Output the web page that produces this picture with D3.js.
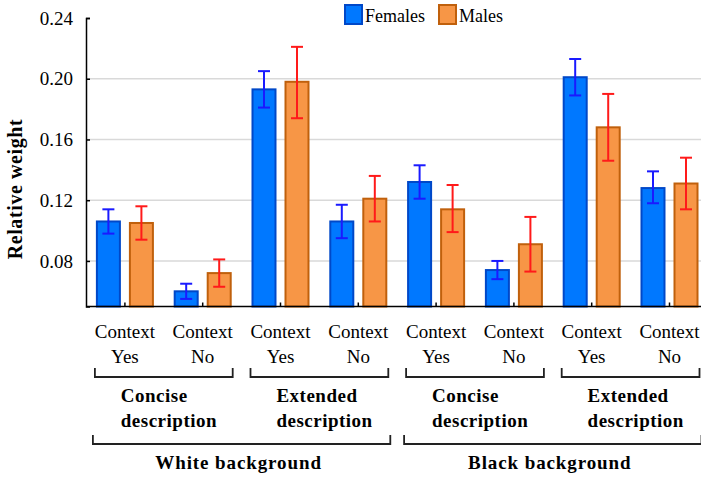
<!DOCTYPE html>
<html>
<head>
<meta charset="utf-8">
<script src="https://cdn.jsdelivr.net/npm/d3@7"></script>
<style>
  body { margin: 0; background: white; }
  svg text { font-family: "Liberation Serif", "Times New Roman", serif; fill: #000; }
</style>
</head>
<body>
<div id="chart"></div>
<script>
// categories along the x axis (top line / bottom line of each label)
const categories = ["WCY", "WCN", "WEY", "WEN", "BCY", "BCN", "BEY", "BEN"];
const contextLabels = ["Yes", "No", "Yes", "No", "Yes", "No", "Yes", "No"];
const series = ["Females", "Males"];

// relative weights
const females = [0.106, 0.060, 0.193, 0.106, 0.132, 0.074, 0.201, 0.128];
const femalesLow = [0.098, 0.055, 0.181, 0.095, 0.121, 0.068, 0.189, 0.118];
const femalesHigh = [0.114, 0.065, 0.205, 0.117, 0.143, 0.080, 0.213, 0.139];
const males = [0.105, 0.072, 0.198, 0.121, 0.114, 0.091, 0.168, 0.131];
const malesLow = [0.094, 0.063, 0.174, 0.106, 0.099, 0.073, 0.146, 0.114];
const malesHigh = [0.116, 0.081, 0.221, 0.136, 0.130, 0.109, 0.190, 0.148];

const yTicks = [0.08, 0.12, 0.16, 0.20, 0.24];

// bracket groups: [first category, last category, lines of label]
const descGroups = [
  ["WCY", "WCN", ["Concise", "description"]],
  ["WEY", "WEN", ["Extended", "description"]],
  ["BCY", "BCN", ["Concise", "description"]],
  ["BEY", "BEN", ["Extended", "description"]]
];
const bgGroups = [
  ["WCY", "WEN", "White background"],
  ["BCY", "BEN", "Black background"]
];

const width = 701, height = 478;
const svg = d3.select("#chart").append("svg")
  .attr("width", width).attr("height", height);

const x = d3.scaleBand().domain(categories).range([86, 708.4]);
const xs = d3.scaleBand().domain(series).range([0, x.bandwidth()])
  .paddingInner(0.303).paddingOuter(0.33);
const y = d3.scaleLinear().domain([0.05, 0.24]).range([306.5, 18]);
const cx = c => x(c) + x.bandwidth() / 2;

// gridlines
svg.append("g")
  .selectAll("line")
  .data(yTicks.filter(t => t < 0.24))
  .join("line")
  .attr("x1", 86).attr("x2", width)
  .attr("y1", d => y(d)).attr("y2", d => y(d))
  .attr("stroke", "#d9d9d9").attr("stroke-width", 1.5);

// y axis
const yAxis = svg.append("g")
  .attr("transform", "translate(86,0)")
  .call(d3.axisRight(y).tickValues(yTicks).tickFormat(d3.format(".2f")).tickSize(4));
yAxis.select(".domain").attr("stroke", "#000").attr("stroke-width", 1.5);
yAxis.selectAll(".tick line").attr("stroke", "#000").attr("stroke-width", 1.5);
yAxis.selectAll(".tick text")
  .attr("x", -13).attr("text-anchor", "end")
  .style("font-size", "19px");

svg.append("text")
  .attr("transform", "translate(22,189) rotate(-90)")
  .attr("text-anchor", "middle")
  .style("font-size", "20px").style("font-weight", "bold")
  .style("letter-spacing", "0.6px")
  .text("Relative weight");

// bars
const rows = categories.map((c, i) => [
  { cat: c, s: "Females", v: females[i], lo: femalesLow[i], hi: femalesHigh[i] },
  { cat: c, s: "Males", v: males[i], lo: malesLow[i], hi: malesHigh[i] }
]).flat();

const fill = { Females: "#0078ff", Males: "#f79646" };
const edge = { Females: "#0048c8", Males: "#c0600c" };
const errColor = { Females: "#1a1aff", Males: "#ff1a1a" };

svg.append("g")
  .selectAll("rect")
  .data(rows)
  .join("rect")
  .attr("x", d => x(d.cat) + xs(d.s))
  .attr("width", xs.bandwidth())
  .attr("y", d => y(d.v))
  .attr("height", d => y(0.05) - y(d.v))
  .attr("fill", d => fill[d.s])
  .attr("stroke", d => edge[d.s])
  .attr("stroke-width", 2);

// error bars
const eb = svg.append("g")
  .selectAll("g")
  .data(rows)
  .join("g")
  .attr("stroke", d => errColor[d.s])
  .attr("stroke-width", 2);
const ecx = d => x(d.cat) + xs(d.s) + xs.bandwidth() / 2;
eb.append("line")
  .attr("x1", ecx).attr("x2", ecx)
  .attr("y1", d => y(d.lo)).attr("y2", d => y(d.hi));
eb.append("line")
  .attr("x1", d => ecx(d) - 6).attr("x2", d => ecx(d) + 6)
  .attr("y1", d => y(d.hi)).attr("y2", d => y(d.hi));
eb.append("line")
  .attr("x1", d => ecx(d) - 6).attr("x2", d => ecx(d) + 6)
  .attr("y1", d => y(d.lo)).attr("y2", d => y(d.lo));

// x axis
const xAxis = svg.append("g")
  .attr("transform", `translate(0,${y(0.05)})`)
  .call(d3.axisTop(x).tickSize(4).tickFormat(""));
xAxis.select(".domain").attr("d", `M86,0H${width}`)
  .attr("stroke", "#000").attr("stroke-width", 1.5);
xAxis.selectAll(".tick line").attr("stroke", "#000").attr("stroke-width", 1.5);

// category labels
const catLab = svg.append("g")
  .selectAll("text")
  .data(categories)
  .join("text")
  .attr("x", d => cx(d))
  .attr("text-anchor", "middle")
  .style("font-size", "19px");
catLab.append("tspan").attr("x", d => cx(d)).attr("y", 338).text("Context");
catLab.append("tspan").attr("x", d => cx(d)).attr("y", 363)
  .text((d, i) => contextLabels[i]);

// brackets
const bracket = (g, x1, x2, yy, h) =>
  g.append("path")
    .attr("d", `M${x1},${yy - h}V${yy}H${x2}V${yy - h}`)
    .attr("fill", "none").attr("stroke", "#222").attr("stroke-width", 1.8);

const lvl1 = svg.append("g");
descGroups.forEach(([a, b, lines]) => {
  bracket(lvl1, cx(a) - 30, cx(b) + 30, 377, 9);
  const mid = (cx(a) + cx(b)) / 2;
  const t = lvl1.append("text")
    .style("font-size", "19px").style("font-weight", "bold")
    .style("letter-spacing", "0.5px");
  lines.forEach((l, k) => {
    t.append("tspan").attr("x", mid - 43).attr("y", 402 + k * 25).text(l);
  });
});

const lvl2 = svg.append("g");
bgGroups.forEach(([a, b, label]) => {
  bracket(lvl2, cx(a) - 32, cx(b) + 32, 444, 9);
  lvl2.append("text")
    .attr("x", (cx(a) + cx(b)) / 2 - 3)
    .attr("y", 469)
    .attr("text-anchor", "middle")
    .style("font-size", "19px").style("font-weight", "bold")
    .style("letter-spacing", "0.9px")
    .text(label);
});

// legend
const legend = svg.append("g")
  .selectAll("g")
  .data(series)
  .join("g")
  .attr("transform", (d, i) => `translate(${i === 0 ? 345 : 439},5)`);
legend.append("rect")
  .attr("width", 17).attr("height", 19)
  .attr("fill", d => fill[d]).attr("stroke", d => edge[d]).attr("stroke-width", 2);
legend.append("text")
  .attr("x", 20).attr("y", 17)
  .style("font-size", "18px")
  .text(d => d);
</script>
</body>
</html>
